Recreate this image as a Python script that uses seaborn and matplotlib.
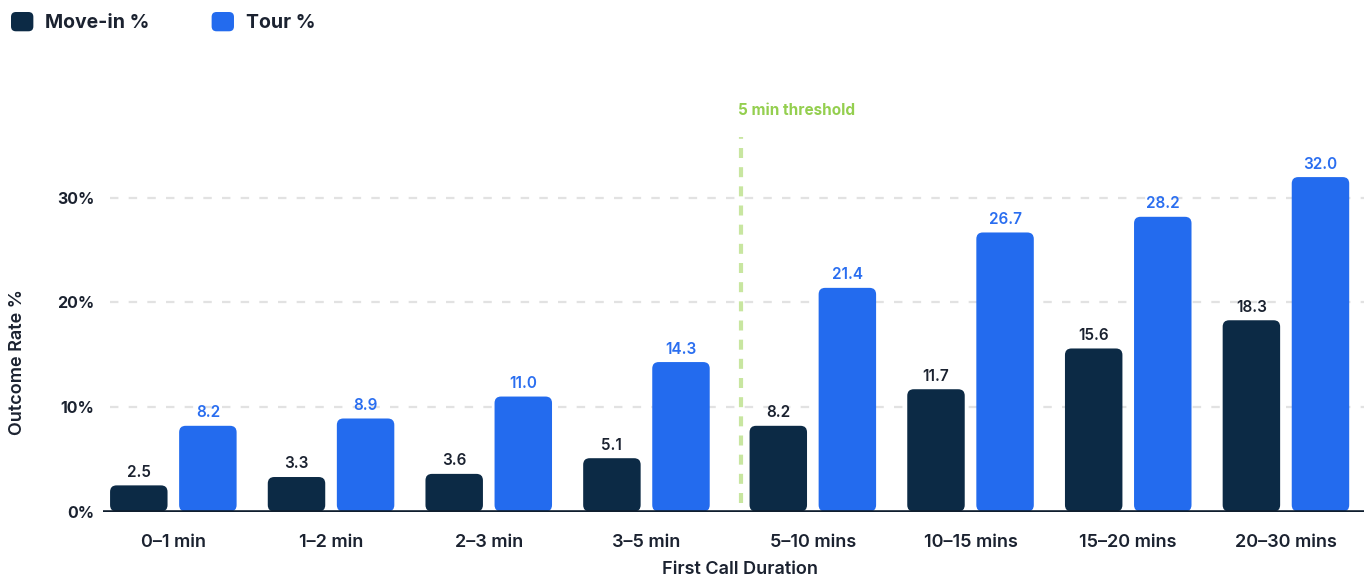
import numpy as np
import pandas as pd
import seaborn as sns
import matplotlib.pyplot as plt
from matplotlib.patches import FancyBboxPatch, Patch
from matplotlib.legend_handler import HandlerPatch

# ---------------- data ----------------
categories = ["0–1 min", "1–2 min", "2–3 min", "3–5 min",
              "5–10 mins", "10–15 mins", "15–20 mins", "20–30 mins"]
move_in = [2.5, 3.3, 3.6, 5.1, 8.2, 11.7, 15.6, 18.3]
tour = [8.2, 8.9, 11.0, 14.3, 21.4, 26.7, 28.2, 32.0]
series = ["Move-in %", "Tour %"]
y_ticks = [0, 10, 20, 30]
y_tick_labels = ["0%", "10%", "20%", "30%"]
threshold_label = "5 min threshold"
x_label = "First Call Duration"
y_label = "Outcome Rate %"

# ---------------- style ----------------
DARK = "#0c2a45"
BLUE = "#236bee"
TEXT = "#1b2230"
BLUE_TXT = "#2a6ef0"
GREEN_TXT = "#94cf4f"
GREEN_LINE = "#c8e6a0"
GRID = "#e2e2e2"
SHIFT = 0.055          # extra gap after the threshold
THRESH_X = 3.6
W, H = 1364, 577

df = pd.DataFrame({
    "cat": categories * 2,
    "series": [series[0]] * len(categories) + [series[1]] * len(categories),
    "value": move_in + tour,
})

sns.set_theme(style="white")
plt.rcParams['font.family'] = ['Inter', 'DejaVu Sans']

fig = plt.figure(figsize=(W / 100, H / 100), dpi=100)
ax = fig.add_axes([103 / W, (H - 511.5) / H, (W - 103) / W, 431.5 / H])

sns.barplot(data=df, x="cat", y="value", hue="series", order=categories,
            hue_order=series, palette=[DARK, BLUE], width=0.876, gap=0.168,
            saturation=1, legend=False, ax=ax)

ax.set_xlim(-0.446, 7.55)
ax.set_ylim(0, 41.29)

# shift groups after threshold
for cont in ax.containers:
    for rect in cont:
        if rect.get_x() + rect.get_width() / 2 > 3.5:
            rect.set_x(rect.get_x() + SHIFT)

# value labels
label_colors = [TEXT, BLUE_TXT]
for cont, col in zip(ax.containers, label_colors):
    ax.bar_label(cont, fmt="%.1f", padding=4, color=col, fontsize=11,
                 fontweight="semibold")

# rounded bars
fig.canvas.draw()
px_x = ax.transData.transform((1, 0))[0] - ax.transData.transform((0, 0))[0]
px_y = ax.transData.transform((0, 1))[1] - ax.transData.transform((0, 0))[1]
r_px = 6.5
asp = px_x / px_y
for cont in ax.containers:
    for rect in cont:
        x, y = rect.get_x(), rect.get_y()
        w, h = rect.get_width(), rect.get_height()
        fb = FancyBboxPatch((x, y), w, h,
                            boxstyle=f"round,pad=0,rounding_size={r_px / px_x}",
                            mutation_aspect=asp, fc=rect.get_facecolor(),
                            ec="none", zorder=2)
        ax.add_patch(fb)
        rect.set_visible(False)

# baseline, grid
ax.axhline(0, color="#0f1e2e", lw=2.6, zorder=4)
for yv in y_ticks[1:]:
    ax.axhline(yv, xmin=7 / (W - 103), color=GRID, lw=1.6,
               ls=(0, (3.8, 4.6)), zorder=0)

# threshold
ax.vlines(THRESH_X, 0.8, 35.8, colors=GREEN_LINE, lw=3, linestyles=(0, (2.4, 2.2)),
          zorder=1)
ax.text(THRESH_X - 0.02, 38.4, threshold_label, ha="left", va="center",
        color=GREEN_TXT, fontsize=11, fontweight="bold")

# axes
for s in ax.spines.values():
    s.set_visible(False)
xt = [i + (SHIFT if i >= 4 else 0) for i in range(len(categories))]
ax.set_xticks(xt)
ax.set_xticklabels(categories, fontsize=13, fontweight="semibold", color=TEXT)
ax.set_yticks(y_ticks)
ax.set_yticklabels(y_tick_labels, fontsize=11.5, fontweight="bold", color=TEXT)
ax.tick_params(axis="x", length=0, pad=16)
ax.tick_params(axis="y", length=0, pad=6)

ax.set_xlabel(x_label, fontsize=13, fontweight="semibold", color=TEXT)
ax.xaxis.set_label_coords((740 - 103) / (W - 103), (511.5 - 570) / 431.5)
ax.xaxis.label.set_va("center")
ax.set_ylabel(y_label, fontsize=13, fontweight="semibold", color=TEXT)
ax.yaxis.set_label_coords((17 - 103) / (W - 103), (511.5 - 362) / 431.5)
ax.yaxis.label.set_va("center")
ax.yaxis.label.set_ha("center")


# legend with rounded squares
class RoundHandler(HandlerPatch):
    def create_artists(self, legend, orig_handle, xdescent, ydescent, width,
                       height, fontsize, trans):
        p = FancyBboxPatch((-xdescent, -ydescent), width, height,
                           boxstyle=f"round,pad=0,rounding_size={width * 0.22}",
                           fc=orig_handle.get_facecolor(), ec="none",
                           transform=trans)
        return [p]


handles = [Patch(facecolor=DARK), Patch(facecolor=BLUE)]
fig.legend(handles, series, loc="upper left", bbox_to_anchor=(11 / W, 1 - 12 / H),
           ncol=2, frameon=False, handlelength=1.15, handleheight=1.15,
           handletextpad=0.6, columnspacing=3.2, borderpad=0, borderaxespad=0,
           handler_map={Patch: RoundHandler()},
           prop={"weight": "bold", "size": 14}, labelcolor=TEXT)

fig.savefig("out.png", dpi=100)
